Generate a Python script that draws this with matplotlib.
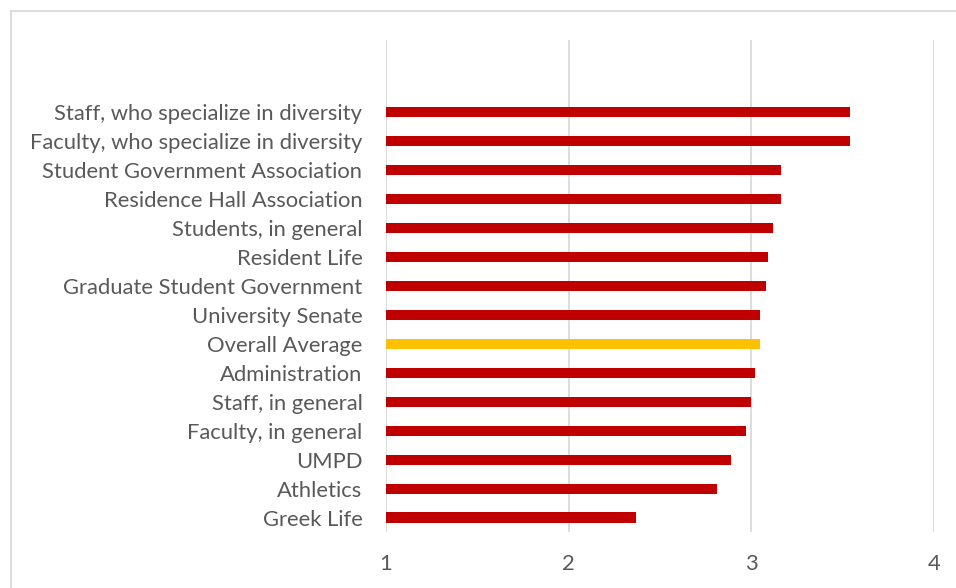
import matplotlib
matplotlib.use('Agg')
import matplotlib.pyplot as plt
from matplotlib.lines import Line2D

# groups listed bottom to top
groups = ['Greek Life', 'Athletics', 'UMPD', 'Faculty, in general', 'Staff, in general',
          'Administration', 'Overall Average', 'University Senate',
          'Graduate Student Government', 'Resident Life', 'Students, in general',
          'Residence Hall Association', 'Student Government Association',
          'Faculty, who specialize in diversity', 'Staff, who specialize in diversity']
scores = [2.37, 2.81, 2.89, 2.97, 3.00, 3.02, 3.05, 3.05, 3.08, 3.09, 3.12, 3.16, 3.16, 3.54, 3.54]
xticks = [1, 2, 3, 4]

plt.rcParams['font.family'] = ['Lato', 'DejaVu Sans']
colors = ['#FFC000' if g == 'Overall Average' else '#C00000' for g in groups]

fig = plt.figure(figsize=(9.56, 5.88), dpi=100)
ax = fig.add_axes([386/956, 1 - 532/588, (934-386)/956, (532-40)/588])

ypos = list(range(len(groups)))
ax.barh(ypos, [s - 1 for s in scores], left=1, height=0.35, color=colors, zorder=3)

ax.set_xlim(1, 4)
ax.set_ylim(-0.5, 16.5)
ax.set_xticks(xticks)
ax.set_xticklabels([str(t) for t in xticks])
ax.set_yticks(ypos)
ax.set_yticklabels(groups)
ax.grid(axis='x', color='#D9D9D9', linewidth=1.3, zorder=0)
ax.tick_params(axis='both', length=0, labelsize=15.8, colors='#595959')
ax.tick_params(axis='y', pad=17)
ax.tick_params(axis='x', pad=16)
for s in ax.spines.values():
    s.set_visible(False)

# chart area border
x0 = 11/956
y0 = 1 - 11/588
fig.add_artist(Line2D([x0, x0], [0, y0], transform=fig.transFigure, color='#D9D9D9', lw=1.3))
fig.add_artist(Line2D([x0, 1], [y0, y0], transform=fig.transFigure, color='#D9D9D9', lw=1.3))

fig.savefig('out.png', dpi=100)
